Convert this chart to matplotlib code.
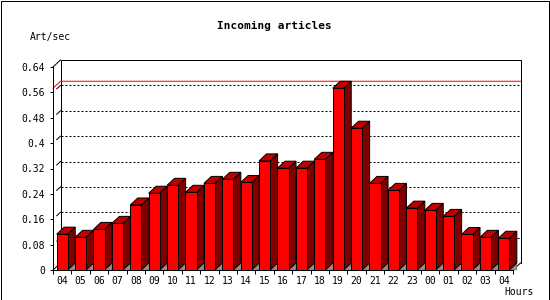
import matplotlib
matplotlib.use("Agg")
import matplotlib.pyplot as plt
from matplotlib.patches import Polygon, Rectangle
from matplotlib.lines import Line2D

hours = ["04", "05", "06", "07", "08", "09", "10", "11", "12", "13", "14", "15", "16",
         "17", "18", "19", "20", "21", "22", "23", "00", "01", "02", "03", "04"]
values = [0.113, 0.103, 0.128, 0.147, 0.205, 0.242, 0.267, 0.245, 0.273, 0.286, 0.276,
          0.344, 0.321, 0.321, 0.349, 0.573, 0.447, 0.273, 0.251, 0.195, 0.188, 0.169,
          0.112, 0.103, 0.100]
yticks = [0, 0.08, 0.16, 0.24, 0.32, 0.4, 0.48, 0.56, 0.64]
ytick_labels = ["0", "0.08", "0.16", "0.24", "0.32", "0.4", "0.48", "0.56", "0.64"]
title = "Incoming articles"
ylabel = "Art/sec"
xlabel = "Hours"

W, H = 550, 300
DPI = 100
fig = plt.figure(figsize=(W / DPI, H / DPI), dpi=DPI)
fig.patch.set_facecolor("white")

# front axes region in pixels
x0, x1 = 53, 513
y_top, y_bot = 67, 270
ax = fig.add_axes([x0 / W, (H - y_bot) / H, (x1 - x0) / W, (y_bot - y_top) / H])
n = len(values)
ymax = 0.64
ax.set_xlim(0, n)
ax.set_ylim(0, ymax)
ax.set_facecolor("none")

px_x = n / (x1 - x0)          # data units per pixel (x)
px_y = ymax / (y_bot - y_top)  # data units per pixel (y)
ddx = 7.5 * px_x
ddy = 7.0 * px_y
LW = 0.72
FONT = "DejaVu Sans Mono"

for s in ["top", "right"]:
    ax.spines[s].set_visible(False)
for s in ["left", "bottom"]:
    ax.spines[s].set_linewidth(LW)
    ax.spines[s].set_color("black")

ax.set_yticks(yticks)
ax.set_yticklabels(ytick_labels, fontfamily=FONT, fontsize=7)
ax.tick_params(axis="y", direction="out", length=2.2, width=LW, pad=3.6)
ax.set_xticks([i + 0.5 for i in range(n)])
ax.set_xticklabels(hours, fontfamily=FONT, fontsize=7)
ax.set_xticks(list(range(n + 1)), minor=True)
ax.tick_params(axis="x", which="major", length=0, pad=4.0)
ax.tick_params(axis="x", which="minor", direction="out", length=3.0, width=LW)

# back plane frame
kw = dict(color="black", lw=LW, clip_on=False, zorder=1)
ax.add_line(Line2D([ddx, ddx, n + ddx, n + ddx], [ddy, ymax + ddy, ymax + ddy, ddy], **kw))
ax.add_line(Line2D([0, ddx], [ymax, ymax + ddy], **kw))
ax.add_line(Line2D([n, n + ddx], [0, ddy], **kw))
ax.add_line(Line2D([0, ddx], [0, ddy], **kw))

# grid lines on back plane
for t in yticks[1:-1]:
    ax.add_line(Line2D([ddx, n + ddx], [t + ddy, t + ddy], color="black", lw=LW,
                       ls=(0, (2, 2)), clip_on=False, zorder=1))
    ax.add_line(Line2D([ddx * 0.5, ddx], [t + ddy * 0.5, t + ddy], color="black", lw=LW,
                       clip_on=False, zorder=1))

# max line
vmax = max(values)
ax.add_line(Line2D([0, ddx, n + ddx], [vmax, vmax + ddy, vmax + ddy], color="#ff0000",
                   lw=LW, clip_on=False, zorder=1.5))

# 3D bars
bw = 0.6
for i, v in enumerate(values):
    left = i + 0.2
    right = left + bw
    z = 2 + i * 0.01
    shadow = Polygon([(right, 0), (right + ddx, ddy), (right + ddx, 0)], closed=True,
                     facecolor="#909090", edgecolor="#707070", lw=0.4, clip_on=False, zorder=z)
    side = Polygon([(right, 0), (right + ddx, ddy), (right + ddx, v + ddy), (right, v)],
                   closed=True, facecolor="#800000", edgecolor="black", lw=LW,
                   clip_on=False, zorder=z + 0.001)
    top = Polygon([(left, v), (left + ddx, v + ddy), (right + ddx, v + ddy), (right, v)],
                  closed=True, facecolor="#c00000", edgecolor="black", lw=LW,
                  clip_on=False, zorder=z + 0.002)
    ax.add_patch(shadow)
    ax.add_patch(side)
    ax.add_patch(top)
ax.bar([i + 0.5 for i in range(n)], values, width=bw, color="#ff0000", edgecolor="black",
       linewidth=LW, zorder=3)

# texts
fig.text(274 / W, 1 - 26 / H, title, ha="center", va="center", fontfamily=FONT,
         fontweight="bold", fontsize=8)
fig.text(30 / W, 1 - 37 / H, ylabel, ha="left", va="center", fontfamily=FONT, fontsize=7)
fig.text(504 / W, 1 - 292 / H, xlabel, ha="left", va="center", fontfamily=FONT, fontsize=7)

# outer frame
fig.add_artist(Rectangle((0.5 / W, 0.5 / H), (W - 1.5) / W, (H - 1.5) / H,
                         transform=fig.transFigure, fill=False, edgecolor="black", lw=LW))

fig.savefig("out.png", dpi=DPI)
